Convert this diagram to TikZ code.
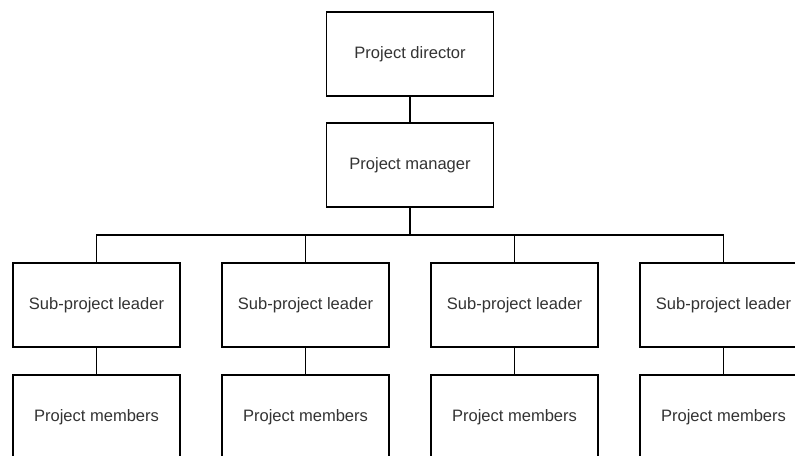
\documentclass[tikz,border=0pt]{standalone}
\usepackage{fontspec}
\setmainfont{Liberation Sans}
\definecolor{txt}{HTML}{333333}
\begin{document}
\begin{tikzpicture}[x=0.75pt,y=-0.75pt,
  box/.style={draw=black,line width=0.9pt,fill=white,minimum width=125.25pt,minimum height=63pt,inner sep=0pt,
    font=\fontsize{12.4pt}{14pt}\selectfont,text=txt},
  conn/.style={draw=black,line width=0.9pt}]
\clip (0,0) rectangle (795,455);
\fill[white] (0,0) rectangle (795,455);
\node[box] (dir) at (410,54) {Project director};
\node[box] (mgr) at (410,165) {Project manager};
\foreach \i/\x in {1/96.5,2/305.5,3/514.5,4/723.5}{
  \node[box] (s\i) at (\x,305) {Sub-project leader};
  \node[box] (m\i) at (\x,417) {Project members};
}
\coordinate (bus) at (410,235);
\draw[conn] (dir.south) -- (mgr.north);
\draw[conn] (mgr.south) -- (bus);
\foreach \i in {1,2,3,4}{
  \draw[conn] (s\i.north) |- (bus);
  \draw[conn] (s\i.south) -- (m\i.north);
}
\end{tikzpicture}
\end{document}
